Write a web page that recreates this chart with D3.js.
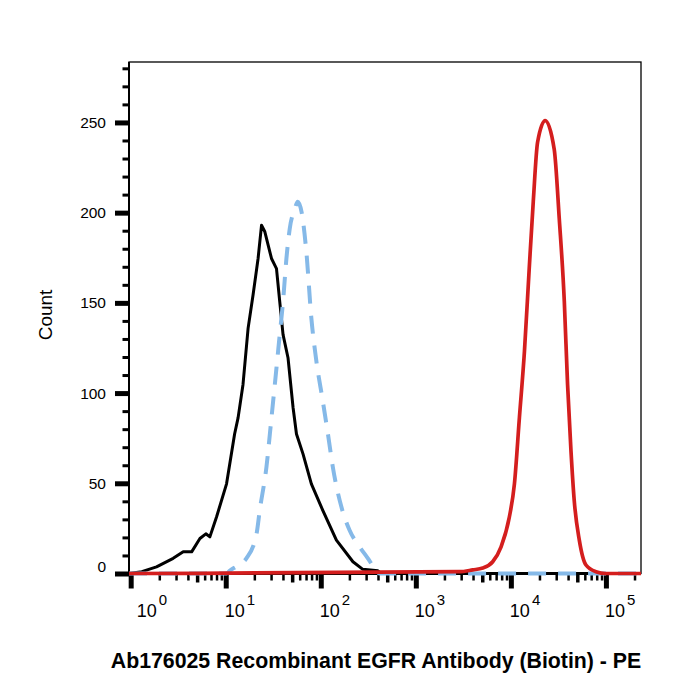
<!DOCTYPE html>
<html>
<head>
<meta charset="utf-8">
<script src="https://cdn.jsdelivr.net/npm/d3@7"></script>
<style>
  body { margin: 0; background: #fff; }
  text { font-family: "Liberation Sans", Arial, sans-serif; }
</style>
</head>
<body>
<div id="main"></div>
<script>
// fluorescence intensity (PE) vs count
const blackX = [1.31, 1.87, 2.8, 3.57, 4.38, 5.35, 6.18, 6.81, 8.0, 10.2, 12.4, 13.5, 15.2, 17.2, 19.4, 21.9, 23.8, 25.8, 30.3, 34.2, 37.0, 40.1, 45.2, 51.1, 55.5, 65.0, 79.6, 105, 146, 218, 277, 399, 430]
const blackY = [1, 3.7, 8.4, 12, 12, 19.4, 22, 20.3, 31.3, 49.7, 77.3, 86.4, 104.8, 136, 154.5, 174.6, 193, 189.4, 174.6, 169, 150.7, 132.4, 119.6, 92, 77.3, 66.3, 49.7, 35, 18.5, 6.5, 2.3, 1.5, 0]

const blueX = [10.2, 11.0, 13.5, 16.5, 21.1, 22.8, 26.8, 30.3, 34.2, 37.0, 40.1, 43.5, 47.1, 53.2, 57.2, 63.0, 70.6, 79.6, 89.9, 105, 119, 134, 165, 201, 256, 313, 368, 416]
const blueY = [0, 1.5, 4.5, 8.4, 22, 35, 58.9, 86.4, 114, 132.4, 150.8, 174.6, 191, 202, 206, 200, 178, 141.5, 117.7, 95.6, 77.3, 58.9, 36.8, 24, 14.8, 8.4, 2.9, 0]

const redX = [2880, 3970, 5060, 6440, 7890, 9640, 10900, 12300, 13900, 15600, 17200, 19100, 23000, 28600, 32300, 36500, 39500, 42900, 46400, 52500, 61700, 78500, 100000]
const redY = [1, 2, 3, 6.5, 14.8, 31.3, 49.7, 86.4, 123.2, 169, 206, 239, 251, 235, 196.7, 150.8, 104.8, 68, 40.5, 18.5, 4.7, 1, 0]

const yMajor = [0, 50, 100, 150, 200, 250]
const xDecades = [0, 1, 2, 3, 4, 5]
const xTitle = "Ab176025 Recombinant EGFR Antibody (Biotin) - PE"
const yTitle = "Count"

function graphData() {
    let margin = {top: 62, right: 59, bottom: 126.5, left: 129}
    let pxX = 700 - margin.left - margin.right,
        pxY = 700 - margin.top - margin.bottom

    let svg = d3.select("#main").append("svg")
        .attr("width", 700)
        .attr("height", 700)
    let g = svg.append("g")
        .attr("transform", `translate(${margin.left} ${margin.top})`)

    let xMin = 0.96, xMax = 234000
    let scX = d3.scaleLog().domain([xMin, xMax]).range([0, pxX])
    let scY = d3.scaleLinear().domain([0, 283.5]).range([pxY, 0])

    // frame
    g.append("rect")
        .attr("width", pxX).attr("height", pxY)
        .attr("fill", "none").attr("stroke", "#000").attr("stroke-width", 1.3)

    // y axis: minor + major ticks
    let yMinor = d3.range(10, 281, 10).filter(v => v % 50 != 0)
    g.append("g")
        .call(d3.axisLeft(scY).tickValues(yMinor).tickSize(6.5).tickFormat(""))
        .call(a => a.select(".domain").remove())
        .selectAll("line").attr("stroke-width", 3)
    let yAx = g.append("g")
        .call(d3.axisLeft(scY).tickValues(yMajor).tickSize(14).tickPadding(9))
        .call(a => a.select(".domain").remove())
    yAx.selectAll("line").attr("stroke-width", 5)
    yAx.selectAll("text")
        .attr("font-size", 15.5)
        .attr("font-family", "Liberation Sans, Arial, sans-serif")
        .attr("fill", "#000")
        .attr("dy", d => d == 0 ? "-0.15em" : "0.33em")
    g.append("line")
        .attr("x1", 0).attr("x2", 0).attr("y1", 0).attr("y2", pxY)
        .attr("stroke", "#000").attr("stroke-width", 2)

    // x axis: ticks
    let xMajor = xDecades.map(d => Math.pow(10, d))
    let xMinor = [], xMid = []
    xDecades.forEach(d => {
        for (let k = 2; k <= 9; k++) {
            let v = k * Math.pow(10, d)
            if (v > xMax) continue
            if (k == 5) xMid.push(v)
            else xMinor.push(v)
        }
    })
    let xa = g.append("g").attr("transform", `translate(0, ${pxY})`)
    xa.append("g")
        .call(d3.axisBottom(scX).tickValues(xMinor).tickSize(7).tickFormat(""))
        .call(a => a.select(".domain").remove())
        .selectAll("line").attr("stroke-width", 2.5)
    xa.append("g")
        .call(d3.axisBottom(scX).tickValues(xMid).tickSize(9).tickFormat(""))
        .call(a => a.select(".domain").remove())
        .selectAll("line").attr("stroke-width", 3.5)
    xa.append("g")
        .call(d3.axisBottom(scX).tickValues(xMajor).tickSize(15).tickFormat(""))
        .call(a => a.select(".domain").remove())
        .selectAll("line").attr("stroke-width", 5)
    xa.append("line")
        .attr("x1", 0).attr("x2", pxX)
        .attr("stroke", "#000").attr("stroke-width", 3)

    // x labels 10^n
    let lab = xa.selectAll("text.xl").data(xDecades).enter()
        .append("text")
        .attr("class", "xl")
        .attr("x", d => scX(Math.pow(10, d)) + (d == 0 ? 6 : -1))
        .attr("y", 43.5)
        .attr("font-size", 18)
        .attr("fill", "#000")
    lab.append("tspan").text("10")
    lab.append("tspan")
        .attr("dx", 2)
        .attr("dy", -12)
        .attr("font-size", 15)
        .text(d => d)

    // histograms
    let makeLine = d3.line()
        .x(d => scX(d[0]))
        .y(d => scY(d[1]))
    let smoothLine = d3.line()
        .x(d => scX(d[0]))
        .y(d => scY(d[1]))
        .curve(d3.curveMonotoneX)
    let pts = (xs, ys) => [[xMin, 0]].concat(xs.map((v, i) => [v, ys[i]])).concat([[xMax, 0]])

    g.append("path")
        .attr("d", makeLine(pts(blackX, blackY)))
        .attr("fill", "none").attr("stroke", "#000")
        .attr("stroke-width", 3).attr("stroke-linejoin", "round")
    g.append("path")
        .attr("d", smoothLine(pts(blueX, blueY)))
        .attr("fill", "none").attr("stroke", "#85b9e8")
        .attr("stroke-width", 4).attr("stroke-dasharray", "18,12")
    g.append("path")
        .attr("d", smoothLine(pts(redX, redY)))
        .attr("fill", "none").attr("stroke", "#d41e1e")
        .attr("stroke-width", 3.7).attr("stroke-linejoin", "round")

    // titles
    svg.append("text")
        .attr("transform", "translate(52 315) rotate(-90)")
        .attr("text-anchor", "middle")
        .attr("font-size", 19)
        .attr("fill", "#000")
        .text(yTitle)
    svg.append("text")
        .attr("x", 376).attr("y", 668)
        .attr("text-anchor", "middle")
        .attr("font-size", 21.3)
        .attr("font-weight", "bold")
        .attr("fill", "#000")
        .text(xTitle)
}
graphData()
</script>
</body>
</html>
